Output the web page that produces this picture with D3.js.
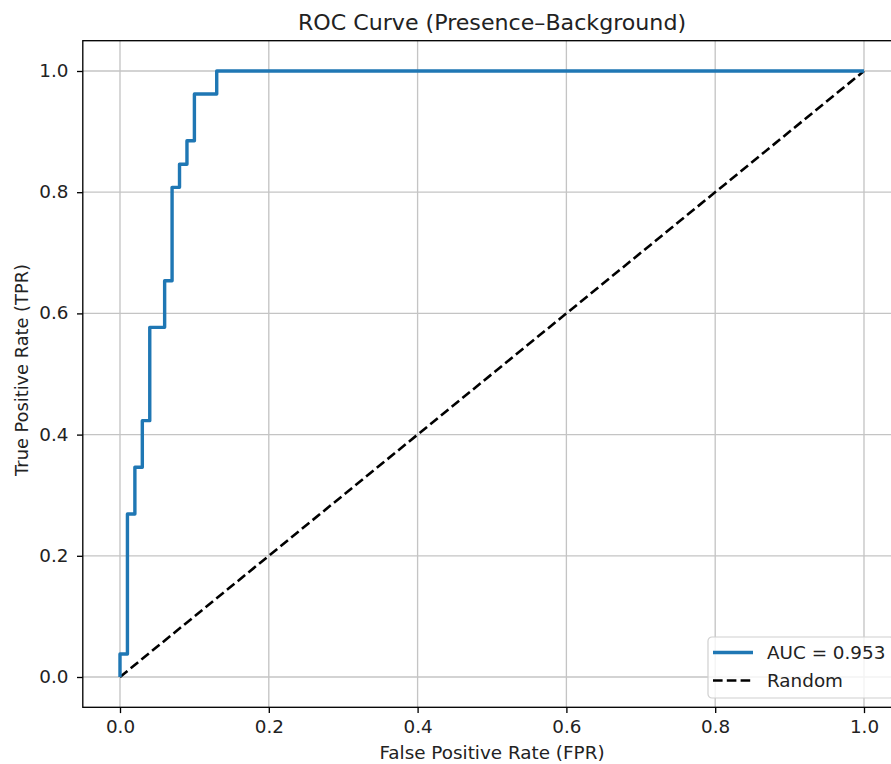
<!DOCTYPE html>
<html>
<head>
<meta charset="utf-8">
<script src="https://cdn.jsdelivr.net/npm/d3@7"></script>
<style>
  body { margin: 0; background: #fff; }
  svg { display: block; font-family: "DejaVu Sans", sans-serif; }
</style>
</head>
<body>
<div class="chart"></div>
<script>
// ROC curve points
var fpr = [0, 0, 0.01, 0.01, 0.02, 0.02, 0.03, 0.03, 0.04, 0.04, 0.06, 0.06, 0.07, 0.07, 0.08, 0.08, 0.09, 0.09, 0.10, 0.10, 0.13, 0.13, 1.0];
var tpr = [0, 0.038, 0.038, 0.269, 0.269, 0.346, 0.346, 0.423, 0.423, 0.577, 0.577, 0.654, 0.654, 0.808, 0.808, 0.846, 0.846, 0.885, 0.885, 0.962, 0.962, 1.0, 1.0];
var randomLine = [[0, 0], [1, 1]];
var ticks = [0, 0.2, 0.4, 0.6, 0.8, 1.0];
var aucLabel = "AUC = 0.953";

var w = 891, h = 764;
var margin = {top: 40.7, right: -10.2, bottom: 56.7, left: 82.8};
var stretch = "scale(1.08,1)"; // reference text is a little wider than tall

var svg = d3.select("div.chart")
  .append("svg")
  .attr("width", w)
  .attr("height", h);

var x = d3.scaleLinear().domain([-0.05, 1.05]).range([margin.left, w - margin.right]);
var y = d3.scaleLinear().domain([-0.05, 1.05]).range([h - margin.bottom, margin.top]);

//grid
var grid = svg.append("g");
grid.selectAll(".gx").data(ticks).enter().append("line")
  .attr("x1", d => x(d)).attr("x2", d => x(d))
  .attr("y1", y.range()[0]).attr("y2", y.range()[1])
  .attr("stroke", "#c4c4c4").attr("stroke-width", 1.33);
grid.selectAll(".gy").data(ticks).enter().append("line")
  .attr("y1", d => y(d)).attr("y2", d => y(d))
  .attr("x1", x.range()[0]).attr("x2", x.range()[1])
  .attr("stroke", "#c4c4c4").attr("stroke-width", 1.33);

//random line
svg.append("path")
  .datum(randomLine)
  .attr("d", d3.line().x(d => x(d[0])).y(d => y(d[1])))
  .attr("fill", "none")
  .attr("stroke", "#000")
  .attr("stroke-width", 2.6)
  .attr("stroke-dasharray", "9.6,4.2");

//roc curve
svg.append("path")
  .datum(d3.zip(fpr, tpr))
  .attr("d", d3.line().x(d => x(d[0])).y(d => y(d[1])))
  .attr("fill", "none")
  .attr("stroke", "#1f77b4")
  .attr("stroke-width", 3.4)
  .attr("stroke-linejoin", "round");

//axes
var xAxis = svg.append("g")
  .attr("transform", `translate(0,${y.range()[0]})`)
  .call(d3.axisBottom(x).tickValues(ticks).tickFormat(d3.format(".1f")).tickSize(5.8).tickPadding(8));
var yAxis = svg.append("g")
  .attr("transform", `translate(${x.range()[0]},0)`)
  .call(d3.axisLeft(y).tickValues(ticks).tickFormat(d3.format(".1f")).tickSize(5.8).tickPadding(7.5));
[xAxis, yAxis].forEach(function(a){
  a.select(".domain").remove();
  a.selectAll("line").attr("stroke", "#000").attr("stroke-width", 1.33);
  a.selectAll("text")
    .attr("font-size", "17px")
    .attr("fill", "#222")
    .attr("font-family", "DejaVu Sans, sans-serif")
    .attr("transform", stretch);
});

//spines
svg.append("rect")
  .attr("x", x.range()[0]).attr("y", y.range()[1])
  .attr("width", x.range()[1] - x.range()[0])
  .attr("height", y.range()[0] - y.range()[1])
  .attr("fill", "none")
  .attr("stroke", "#000")
  .attr("stroke-width", 1.33);

//labels
var cx = (x.range()[0] + x.range()[1]) / 2;
svg.append("text")
  .attr("transform", `translate(${cx},30) ${stretch}`)
  .attr("text-anchor", "middle")
  .attr("font-size", "20.5px")
  .attr("fill", "#222")
  .text("ROC Curve (Presence\u2013Background)");
svg.append("text")
  .attr("transform", `translate(${cx},759) ${stretch}`)
  .attr("text-anchor", "middle")
  .attr("font-size", "17px")
  .attr("fill", "#222")
  .text("False Positive Rate (FPR)");
svg.append("text")
  .attr("transform", `translate(27.5,${(y.range()[0] + y.range()[1]) / 2 - 4}) rotate(-90)`)
  .attr("text-anchor", "middle")
  .attr("font-size", "17.8px")
  .attr("fill", "#222")
  .text("True Positive Rate (TPR)");

//legend
var legend = svg.append("g").attr("transform", "translate(708,637)");
legend.append("rect")
  .attr("width", 186).attr("height", 61).attr("rx", 4)
  .attr("fill", "#fff").attr("fill-opacity", 0.8)
  .attr("stroke", "#d0d0d0").attr("stroke-width", 1.2);
var items = [
  {label: aucLabel, color: "#1f77b4", dash: null, sw: 3.4},
  {label: "Random", color: "#000", dash: "9.6,4.2", sw: 2.6}
];
items.forEach(function(it, i){
  var yy = 15.5 + i * 28;
  legend.append("line")
    .attr("x1", 5).attr("x2", 45).attr("y1", yy).attr("y2", yy)
    .attr("stroke", it.color).attr("stroke-width", it.sw)
    .attr("stroke-dasharray", it.dash);
  legend.append("text")
    .attr("transform", `translate(59,${yy + 6}) ${stretch}`)
    .attr("font-size", "17px").attr("fill", "#222")
    .text(it.label);
});
</script>
</body>
</html>
